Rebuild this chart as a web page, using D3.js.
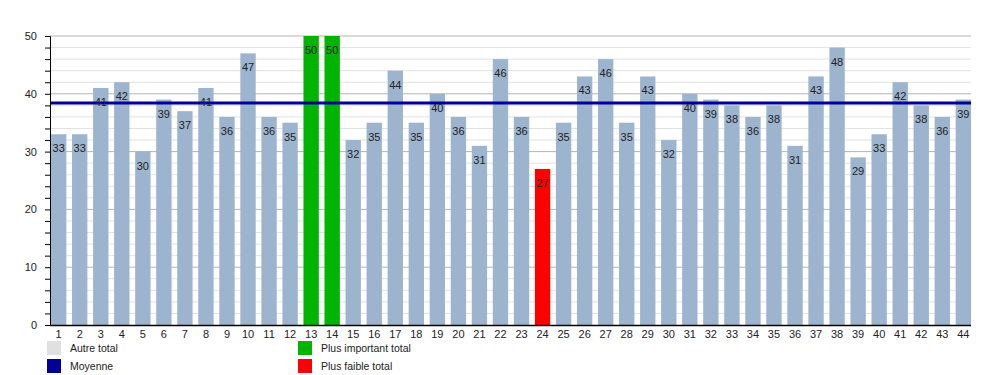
<!DOCTYPE html>
<html><head><meta charset="utf-8">
<script src="https://cdn.jsdelivr.net/npm/d3@7"></script>
<style>body{margin:0;background:#fff}text{font-family:"Liberation Sans",Arial,sans-serif}</style>
</head><body><svg id="c" width="1000" height="375"></svg>
<script>
const categories = d3.range(1, 45).map(String);
const values = [33,33,41,42,30,39,37,41,36,47,36,35,50,50,32,35,44,35,40,36,31,46,36,27,35,43,46,35,43,32,40,39,38,36,38,31,43,48,29,33,42,38,36,39];
const average = 38.4;
const yTicks = [0,10,20,30,40,50];
const legendItems = [
  {label:"Autre total", color:"#e0e0e0"},
  {label:"Moyenne", color:"#000099"},
  {label:"Plus important total", color:"#00b400"},
  {label:"Plus faible total", color:"#ff0000"}
];
const colors = {other:"#9db4cf", max:"#00b400", min:"#ff0000", avg:"#000099"};

const svg = d3.select("#c");
const x0 = 50, x1 = 971, yTop = 36, yBot = 325;
const x = d3.scaleBand().domain(categories).range([x0+1, x1]).paddingInner(0.27).paddingOuter(0);
const y = d3.scaleLinear().domain([0,50]).range([yBot, yTop]);
const maxV = d3.max(values), minV = d3.min(values);

// grid
const g = svg.append("g");
g.selectAll("line.minor").data(d3.range(0, 51, 2).filter(v => v % 10 !== 0)).join("line")
  .attr("x1", x0).attr("x2", x1).attr("y1", d => y(d)).attr("y2", d => y(d))
  .attr("stroke", "#e2e2e2").attr("stroke-width", 1);
g.selectAll("line.major").data(yTicks.filter(v => v > 0)).join("line")
  .attr("x1", x0).attr("x2", x1).attr("y1", d => y(d)).attr("y2", d => y(d))
  .attr("stroke", "#b4b4b4").attr("stroke-width", 1);

// bars
const data = categories.map((c, i) => ({c, v: values[i]}));
svg.append("g").selectAll("rect").data(data).join("rect")
  .attr("x", d => x(d.c)).attr("width", x.bandwidth())
  .attr("y", d => y(d.v)).attr("height", d => y(0) - y(d.v))
  .attr("fill", d => d.v === maxV ? colors.max : d.v === minV ? colors.min : colors.other);

// average line
svg.append("line").attr("x1", x0).attr("x2", x1).attr("y1", y(average)).attr("y2", y(average))
  .attr("stroke", colors.avg).attr("stroke-width", 3);

// value labels
svg.append("g").selectAll("text").data(data).join("text")
  .attr("x", d => x(d.c) + x.bandwidth()/2).attr("y", d => y(d.v) + 18)
  .attr("text-anchor", "middle").attr("font-size", 11).attr("fill", "#222")
  .text(d => d.v);

// y axis
const yAxis = d3.axisLeft(y).tickValues(d3.range(0, 51, 2)).tickSize(5)
  .tickFormat(d => yTicks.includes(d) ? d : "");
const ya = svg.append("g").attr("transform", `translate(${x0},0)`).call(yAxis);
ya.select(".domain").attr("stroke", "#000");
ya.selectAll(".tick line").attr("stroke", "#000");
ya.selectAll(".tick text").attr("font-size", 11).attr("fill", "#222").attr("x", -13).attr("font-family", "Liberation Sans, Arial, sans-serif");

// x axis
const xAxis = d3.axisBottom(x).tickSize(0).tickPadding(5);
const xa = svg.append("g").attr("transform", `translate(0,${yBot})`).call(xAxis);
xa.select(".domain").attr("d", `M${x0},0.5H${x1}`).attr("stroke", "#000").attr("stroke-width", 1.5);
xa.selectAll(".tick text").attr("font-size", 11).attr("fill", "#222").attr("font-family", "Liberation Sans, Arial, sans-serif");

// legend
const legendPos = [[47,341],[47,359],[298,341],[298,359]];
const lg = svg.append("g").selectAll("g").data(legendItems).join("g")
  .attr("transform", (d, i) => `translate(${legendPos[i][0]},${legendPos[i][1]})`);
lg.append("rect").attr("width", 14).attr("height", 14).attr("fill", d => d.color);
lg.append("text").attr("x", 23).attr("y", 11).attr("font-size", 10.5).attr("fill", "#222").text(d => d.label);
</script></body></html>
